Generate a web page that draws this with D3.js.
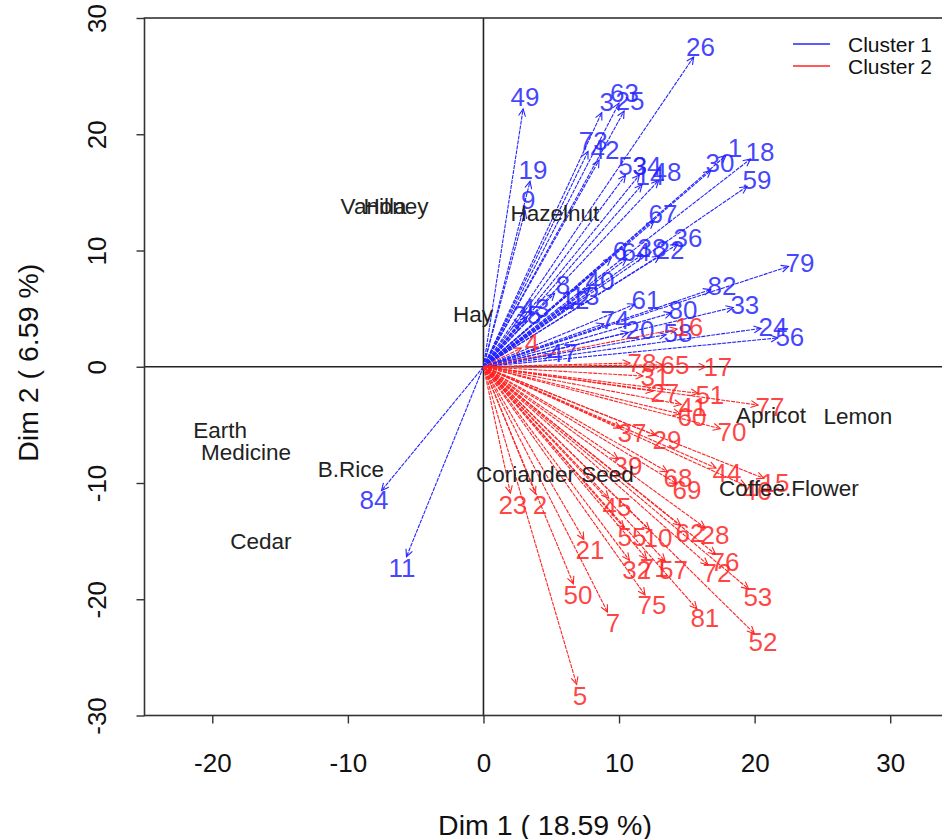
<!DOCTYPE html>
<html>
<head>
<meta charset="utf-8">
<script src="https://cdn.jsdelivr.net/npm/d3@7"></script>
<style>
  body { margin: 0; background: #fff; }
  text { font-family: "Liberation Sans", Arial, sans-serif; }
</style>
</head>
<body>
<div id="biplot"></div>
<script>
// label positions (Dim 1, Dim 2) of each sample
var cluster1 = [
  {id: "26", x: 16.0, y: 27.5}, {id: "49", x: 3.06, y: 23.2}, {id: "63", x: 10.4, y: 23.6},
  {id: "3", x: 9.1, y: 22.8}, {id: "25", x: 10.8, y: 22.9}, {id: "19", x: 3.65, y: 16.95},
  {id: "9", x: 3.3, y: 14.4}, {id: "73", x: 8.1, y: 19.45}, {id: "42", x: 8.96, y: 18.67},
  {id: "53", x: 11.0, y: 17.3}, {id: "34", x: 12.06, y: 17.3}, {id: "14", x: 12.28, y: 16.44},
  {id: "48", x: 13.53, y: 16.78}, {id: "1", x: 18.55, y: 18.85}, {id: "30", x: 17.44, y: 17.56},
  {id: "18", x: 20.39, y: 18.5}, {id: "59", x: 20.17, y: 16.09}, {id: "67", x: 13.24, y: 13.17},
  {id: "36", x: 15.08, y: 11.1}, {id: "6", x: 10.07, y: 9.98}, {id: "64", x: 11.25, y: 9.9},
  {id: "38", x: 12.43, y: 10.24}, {id: "22", x: 13.75, y: 10.07}, {id: "79", x: 23.34, y: 8.95},
  {id: "82", x: 17.59, y: 6.97}, {id: "33", x: 19.28, y: 5.34}, {id: "8", x: 5.86, y: 7.06},
  {id: "40", x: 8.59, y: 7.4}, {id: "12", x: 6.75, y: 5.77}, {id: "13", x: 7.49, y: 6.11},
  {id: "61", x: 11.98, y: 5.77}, {id: "80", x: 14.71, y: 4.91}, {id: "58", x: 14.34, y: 2.93},
  {id: "24", x: 21.35, y: 3.44}, {id: "56", x: 22.6, y: 2.58}, {id: "74", x: 9.7, y: 4.04},
  {id: "20", x: 11.54, y: 3.18}, {id: "47", x: 5.86, y: 1.2}, {id: "43", x: 3.8, y: 5.08},
  {id: "35", x: 3.21, y: 4.48}, {id: "84", x: -8.08, y: -11.45}, {id: "11", x: -6.01, y: -17.3}
];

var cluster2 = [
  {id: "4", x: 3.58, y: 2.07}, {id: "16", x: 15.15, y: 3.44}, {id: "78", x: 11.69, y: 0.34},
  {id: "65", x: 14.12, y: 0.17}, {id: "17", x: 17.29, y: 0}, {id: "31", x: 12.65, y: -0.86},
  {id: "27", x: 13.38, y: -2.24}, {id: "51", x: 16.7, y: -2.41}, {id: "77", x: 21.13, y: -3.44},
  {id: "41", x: 15.45, y: -3.44}, {id: "60", x: 15.38, y: -4.3}, {id: "70", x: 18.33, y: -5.59},
  {id: "37", x: 10.95, y: -5.68}, {id: "29", x: 13.53, y: -6.28}, {id: "39", x: 10.66, y: -8.52},
  {id: "68", x: 14.34, y: -9.55}, {id: "69", x: 15.01, y: -10.59}, {id: "44", x: 17.96, y: -9.12},
  {id: "15", x: 21.5, y: -9.98}, {id: "46", x: 20.17, y: -10.67}, {id: "23", x: 2.17, y: -11.88},
  {id: "2", x: 4.17, y: -11.88}, {id: "45", x: 9.85, y: -12.05}, {id: "55", x: 10.95, y: -14.63},
  {id: "10", x: 12.87, y: -14.72}, {id: "62", x: 15.23, y: -14.29}, {id: "28", x: 17.07, y: -14.46},
  {id: "21", x: 7.85, y: -15.75}, {id: "32", x: 11.3, y: -17.47}, {id: "71", x: 12.6, y: -17.3},
  {id: "57", x: 14.01, y: -17.47}, {id: "72", x: 17.22, y: -17.73}, {id: "76", x: 17.81, y: -16.78},
  {id: "53", x: 20.24, y: -19.79}, {id: "50", x: 6.97, y: -19.62}, {id: "75", x: 12.43, y: -20.48},
  {id: "7", x: 9.55, y: -22.03}, {id: "81", x: 16.33, y: -21.6}, {id: "52", x: 20.61, y: -23.67},
  {id: "5", x: 7.12, y: -28.31}
];

// aroma descriptors
var descriptors = [
  {name: "Vanilla", x: -8.11, y: 13.86}, {name: "Honey", x: -6.45, y: 13.86},
  {name: "Hazelnut", x: 5.27, y: 13.25}, {name: "Hay", x: -0.77, y: 4.56},
  {name: "Earth", x: -19.43, y: -5.42}, {name: "Medicine", x: -17.51, y: -7.31},
  {name: "B.Rice", x: -9.77, y: -8.78}, {name: "Cedar", x: -16.41, y: -14.97},
  {name: "Coriander Seed", x: 5.27, y: -9.21}, {name: "Apricot", x: 21.2, y: -4.13},
  {name: "Lemon", x: 27.62, y: -4.22}, {name: "Coffee.Flower", x: 22.53, y: -10.41}
];

var xTicks = [-20, -10, 0, 10, 20, 30];
var yTicks = [-30, -20, -10, 0, 10, 20, 30];
var clusterNames = ["Cluster 1", "Cluster 2"];
var clusterColors = ["#2424ff", "#ff2424"];

var W = 942, H = 839;
var x = d3.scaleLinear().domain([-25, 35]).range([144.5, 958]);
var y = d3.scaleLinear().domain([-30, 30]).range([715.5, 18]);

var svg = d3.select("#biplot").append("svg")
    .attr("width", W)
    .attr("height", H);

// reference lines through origin
svg.append("line")
  .attr("x1", x(-25)).attr("x2", x(35))
  .attr("y1", y(0)).attr("y2", y(0))
  .attr("stroke", "#222").attr("stroke-width", 1.6);
svg.append("line")
  .attr("x1", x(0)).attr("x2", x(0))
  .attr("y1", y(30)).attr("y2", y(-30))
  .attr("stroke", "#222").attr("stroke-width", 1.6);

// arrows and labels
function drawCluster(data, color) {
  var g = svg.append("g");
  data.forEach(function(d) {
    var x0 = x(0), y0 = y(0);
    var lx = x(d.x), ly = y(d.y);
    var dx = lx - x0, dy = ly - y0;
    var len = Math.sqrt(dx * dx + dy * dy);
    var k = (len - 12) / len;
    var tx = x0 + dx * k, ty = y0 + dy * k;
    var ang = Math.atan2(dy, dx);
    g.append("line")
      .attr("x1", x0).attr("y1", y0)
      .attr("x2", tx).attr("y2", ty)
      .attr("stroke", color).attr("stroke-width", 1.1)
      .attr("stroke-dasharray", "4,1");
    var h = 8, a = Math.PI / 7;
    g.append("path")
      .attr("d", "M" + (tx - h * Math.cos(ang - a)) + "," + (ty - h * Math.sin(ang - a)) +
                 "L" + tx + "," + ty +
                 "L" + (tx - h * Math.cos(ang + a)) + "," + (ty - h * Math.sin(ang + a)))
      .attr("fill", "none").attr("stroke", color).attr("stroke-width", 1.1);
  });
  g.selectAll("text.lab")
    .data(data)
    .enter().append("text")
      .attr("class", "lab")
      .attr("x", function(d) { return x(d.x); })
      .attr("y", function(d) { return y(d.y); })
      .attr("dy", "0.36em")
      .attr("text-anchor", "middle")
      .attr("font-size", 26)
      .attr("fill", color)
      .attr("fill-opacity", 0.85)
      .text(function(d) { return d.id; });
}
drawCluster(cluster1, clusterColors[0]);
drawCluster(cluster2, clusterColors[1]);

// descriptor labels
svg.append("g").selectAll("text")
  .data(descriptors)
  .enter().append("text")
    .attr("x", function(d) { return x(d.x); })
    .attr("y", function(d) { return y(d.y); })
    .attr("dy", "0.36em")
    .attr("text-anchor", "middle")
    .attr("font-size", 22.5)
    .attr("fill", "#222")
    .text(function(d) { return d.name; });

// frame
svg.append("rect")
  .attr("x", x(-25)).attr("y", y(30))
  .attr("width", x(35) - x(-25)).attr("height", y(-30) - y(30))
  .attr("fill", "none").attr("stroke", "#333").attr("stroke-width", 1.6);

// axes
var fmt = function(d) { return String(d); };
var xAxis = svg.append("g")
  .attr("transform", "translate(0," + y(-30) + ")")
  .call(d3.axisBottom(x).tickValues(xTicks).tickFormat(fmt).tickSize(8).tickPadding(30));
var yAxis = svg.append("g")
  .attr("transform", "translate(" + x(-25) + ",0)")
  .call(d3.axisLeft(y).tickValues(yTicks).tickFormat(fmt).tickSize(8));
[xAxis, yAxis].forEach(function(a) {
  a.select(".domain").remove();
  a.selectAll("line").attr("stroke", "#333").attr("stroke-width", 1.4);
  a.selectAll("text").attr("font-size", 26).attr("fill", "#111")
    .attr("font-family", "Liberation Sans, Arial, sans-serif");
});
yAxis.selectAll("text")
  .attr("transform", "rotate(-90)")
  .attr("x", 0)
  .attr("y", -48)
  .attr("dy", "0.36em")
  .attr("text-anchor", "middle");

// axis titles
svg.append("text")
  .attr("x", 545).attr("y", 825)
  .attr("dy", "0.36em")
  .attr("text-anchor", "middle")
  .attr("font-size", 28.5).attr("fill", "#111")
  .text("Dim 1 ( 18.59 %)");
svg.append("text")
  .attr("transform", "translate(28," + (y(0) - 4) + ") rotate(-90)")
  .attr("dy", "0.36em")
  .attr("text-anchor", "middle")
  .attr("font-size", 28.5).attr("fill", "#111")
  .text("Dim 2 ( 6.59 %)");

// legend
var leg = svg.append("g").attr("transform", "translate(793,44)");
clusterNames.forEach(function(name, i) {
  leg.append("line")
    .attr("x1", 0).attr("x2", 37)
    .attr("y1", i * 22).attr("y2", i * 22)
    .attr("stroke", clusterColors[i]).attr("stroke-width", 1.5);
  leg.append("text")
    .attr("x", 55).attr("y", i * 22)
    .attr("dy", "0.36em")
    .attr("font-size", 21).attr("fill", "#111")
    .text(name);
});
</script>
</body>
</html>
